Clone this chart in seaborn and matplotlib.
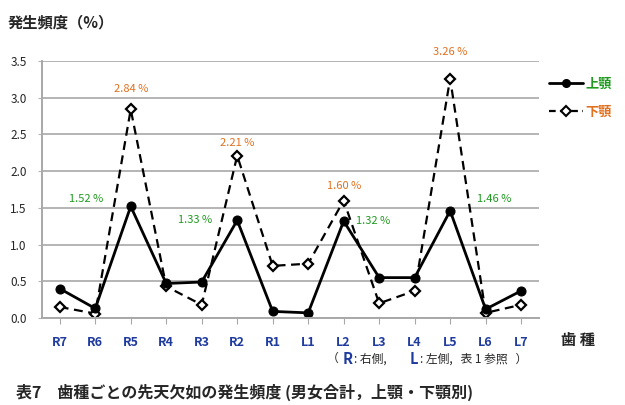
import numpy as np
import pandas as pd
import matplotlib
matplotlib.use("Agg")
import matplotlib.pyplot as plt
from matplotlib.lines import Line2D
import seaborn as sns

# ---- data ----
teeth = ["R7", "R6", "R5", "R4", "R3", "R2", "R1",
         "L1", "L2", "L3", "L4", "L5", "L6", "L7"]
upper = [0.40, 0.13, 1.52, 0.47, 0.49, 1.33, 0.09,
         0.07, 1.32, 0.55, 0.55, 1.46, 0.12, 0.37]
lower = [0.15, 0.06, 2.84, 0.43, 0.18, 2.21, 0.71,
         0.74, 1.60, 0.20, 0.37, 3.26, 0.07, 0.18]
# where the value notes sit (x position, y value)
lower_notes = {"R5": (2.0, 3.12), "R2": (5.0, 2.38), "L2": (8.0, 1.80), "L5": (11.0, 3.62)}
upper_notes = {"R5": (0.73, 1.62), "R2": (3.80, 1.34), "L2": (8.82, 1.32), "L5": (12.23, 1.62)}

green = "#1f9a1f"
orange = "#e2701e"
blue = "#1f3b9e"

sns.set_style("whitegrid")
plt.rcParams["font.family"] = ["Noto Sans CJK JP", "DejaVu Sans"]

df = pd.DataFrame({"tooth": teeth, "upper": upper, "lower": lower})
df["pos"] = np.arange(len(teeth))

fig = plt.figure(figsize=(6.25, 4.05), dpi=100)
ax = fig.add_axes([0.0672, 0.2148, 0.795, 0.6346])

sns.lineplot(data=df, x="pos", y="lower", ax=ax, color="black", linewidth=1.6,
             linestyle=(0, (4, 2.5)), marker="D", markersize=5.5,
             markerfacecolor="white", markeredgecolor="black", markeredgewidth=1.6)
sns.lineplot(data=df, x="pos", y="upper", ax=ax, color="black", linewidth=2,
             marker="o", markersize=6.5, markeredgecolor="black")

ax.set_xlim(-0.5, len(teeth) - 0.5)
ax.set_ylim(0, 3.5)
ax.set_yticks(np.arange(0, 3.51, 0.5))
ax.set_yticklabels([f"{v:.1f}" for v in np.arange(0, 3.51, 0.5)], fontsize=8.5)
ax.set_xticks(df["pos"])
ax.set_xticklabels(teeth, fontsize=9, color=blue, fontweight="bold")
ax.set_xlabel("")
ax.set_ylabel("")
ax.set_facecolor("white")
ax.grid(axis="x", visible=False)
ax.grid(axis="y", color="#b4b4b4", linewidth=1.4)
for side in ["top", "right"]:
    ax.spines[side].set_visible(False)
for side in ["left", "bottom"]:
    ax.spines[side].set_visible(True)
    ax.spines[side].set_color("#a8a8a8")
    ax.spines[side].set_linewidth(1.4)
ax.tick_params(axis="x", bottom=True, length=4, color="#a8a8a8", pad=9)
ax.tick_params(axis="y", left=True, length=3, color="#b4b4b4", pad=8)

# value notes
for t, (x, y) in lower_notes.items():
    v = lower[teeth.index(t)]
    ax.text(x, y, f"{v:.2f} %", ha="center", va="center", fontsize=8,
            color=orange, clip_on=False)
for t, (x, y) in upper_notes.items():
    v = upper[teeth.index(t)]
    ax.text(x, y, f"{v:.2f} %", ha="center", va="center", fontsize=8,
            color=green, clip_on=False)

# legend
handles = [
    Line2D([], [], color="black", linewidth=2, marker="o", markersize=5.5),
    Line2D([], [], color="black", linewidth=1.6, linestyle=(0, (3, 2)), marker="D",
           markersize=5, markerfacecolor="white", markeredgewidth=1.5),
]
leg = ax.legend(handles, ["上顎", "下顎"], loc="upper left", bbox_to_anchor=(1.02, 0.94),
                frameon=False, fontsize=9.5, handlelength=2.6, handletextpad=0.15,
                labelspacing=1.1, borderaxespad=0, borderpad=0)
for txt, c in zip(leg.get_texts(), [green, orange]):
    txt.set_color(c)
    txt.set_fontweight("bold")

# text
fig.text(0.013, 0.945, "発生頻度（%）", fontsize=11, fontweight="bold", va="center")
fig.text(0.925, 0.16, "歯 種", fontsize=11, fontweight="bold", va="center", ha="center")
fig.text(0.523, 0.114, "（", fontsize=8.5, va="center")
fig.text(0.548, 0.114, "R", fontsize=10.5, color=blue, fontweight="bold", va="center")
fig.text(0.566, 0.114, ": 右側,", fontsize=8.5, va="center")
fig.text(0.655, 0.114, "L", fontsize=10.5, color=blue, fontweight="bold", va="center")
fig.text(0.672, 0.114, ": 左側,   表 1 参照   ）", fontsize=8.5, va="center")
fig.text(0.026, 0.03, "表7　歯種ごとの先天欠如の発生頻度 (男女合計，上顎・下顎別)",
         fontsize=11.5, fontweight="bold", va="center")

fig.savefig("out.png", dpi=100)
